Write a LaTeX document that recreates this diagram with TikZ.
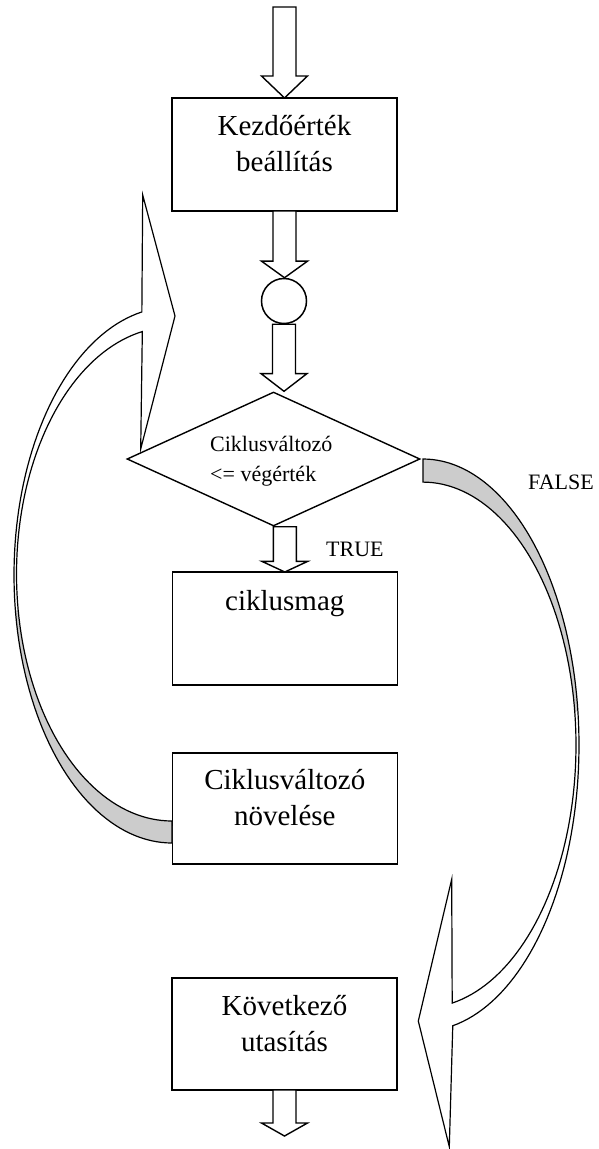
\documentclass[tikz,border=0pt]{standalone}
\usepackage{fontspec}
\setmainfont{Liberation Serif}
\usetikzlibrary{shapes.geometric,calc}
\tikzset{
  box/.style={draw, line width=1.5pt, rectangle, minimum width=225pt, inner sep=0pt, outer sep=0pt},
  barrow/.style={draw, fill=white, line width=1.4pt, line join=miter},
  big/.style={font=\fontsize{29}{35}\selectfont, inner sep=0pt, anchor=base},
  small/.style={font=\fontsize{22}{26}\selectfont, inner sep=0pt, anchor=base west},
  ribbon/.style={draw, line width=1.2pt, line join=miter},
  back/.style={fill=black!20}
}
\newcommand\blockdown[3]{\draw[barrow] let \p1=#1, \p2=#2 in
  (\x1-11.5pt,\y1) -- (\x1-11.5pt,\y2+#3pt) -- (\x1-23pt,\y2+#3pt) -- (\x1,\y2)
  -- (\x1+23pt,\y2+#3pt) -- (\x1+11.5pt,\y2+#3pt) -- (\x1+11.5pt,\y1) -- cycle;}
\begin{document}
\begin{tikzpicture}[x=1pt,y=-1pt]
\useasboundingbox (0,0) rectangle (598,1149);
% boxes
\node[box, minimum height=113pt] (b1) at (284.5,154.5) {};
\node[box, minimum height=113pt] (b2) at (284.8,628.5) {};
\node[box, minimum height=111pt] (b3) at (284.8,808.5) {};
\node[box, minimum height=112pt] (b4) at (284.5,1034) {};
\node[circle, draw, line width=1.5pt, minimum size=45pt, inner sep=0pt] (c) at (284,301) {};
\node[diamond, draw, line width=1.4pt, minimum width=293pt, minimum height=134pt, inner sep=0pt] (d) at (273.5,459) {};
% texts
\node[big] (t1a) at (284.5,135) {Kezdőérték};
\node[big] (t1b) at (284.5,171) {beállítás};
\node[big] (t2) at (284.8,610) {ciklusmag};
\node[big] (t3a) at (284.8,789) {Ciklusváltozó};
\node[big] (t3b) at (284.8,825) {növelése};
\node[big] (t4a) at (284.5,1015) {Következő};
\node[big] (t4b) at (284.5,1051) {utasítás};
\node[small] (dt1) at (210,451) {Ciklusváltozó};
\node[small] (dt2) at (210,481) {<= végérték};
\node[small] (true) at (326,556.5) {TRUE};
\node[small] (false) at (528,489) {FALSE};
% straight block arrows
\coordinate (top) at (284.5,7);
\coordinate (bot) at (284.5,1136);
\blockdown{(top)}{(b1.north)}{22}
\blockdown{(b1.south)}{(c.north)}{16.6}
\blockdown{(c.south)}{(c.south |- d.north)}{17.7}
\blockdown{(b2.north |- d.south)}{(b2.north)}{10.7}
\blockdown{(b4.south)}{(bot)}{13}
% left curved arrow (loop back)
\fill[white] plot[domain=90:259, samples=90] ({172+158*cos(\x)},{575+268*sin(\x)})
  -- (142.7,195) -- (175,316) -- (140.7,449)
  -- plot[domain=259:90, samples=90] ({172+155.5*cos(\x)},{574+247*sin(\x)}) -- cycle;
\fill[back] plot[domain=90:172, samples=60] ({172+158*cos(\x)},{575+268*sin(\x)})
  -- plot[domain=172:90, samples=60] ({172+155.5*cos(\x)},{574+247*sin(\x)}) -- cycle;
\draw[ribbon] plot[domain=90:259, samples=90] ({172+158*cos(\x)},{575+268*sin(\x)})
  -- (142.7,195) -- (175,316) -- (140.7,449)
  -- plot[domain=259:90, samples=90] ({172+155.5*cos(\x)},{574+247*sin(\x)}) -- cycle;
% right curved arrow (FALSE)
\fill[white] plot[domain=-90:79, samples=90] ({423+156*cos(\x)},{745+286*sin(\x)})
  -- (449.3,1146.7) -- (418.3,1021) -- (451.7,879.3)
  -- plot[domain=79:-90, samples=90] ({423+153*cos(\x)},{745+262.9*sin(\x)}) -- cycle;
\fill[back] plot[domain=-90:-7, samples=60] ({423+156*cos(\x)},{745+286*sin(\x)})
  -- plot[domain=-7:-90, samples=60] ({423+153*cos(\x)},{745+262.9*sin(\x)}) -- cycle;
\draw[ribbon] plot[domain=-90:79, samples=90] ({423+156*cos(\x)},{745+286*sin(\x)})
  -- (449.3,1146.7) -- (418.3,1021) -- (451.7,879.3)
  -- plot[domain=79:-90, samples=90] ({423+153*cos(\x)},{745+262.9*sin(\x)}) -- cycle;
\end{tikzpicture}
\end{document}
